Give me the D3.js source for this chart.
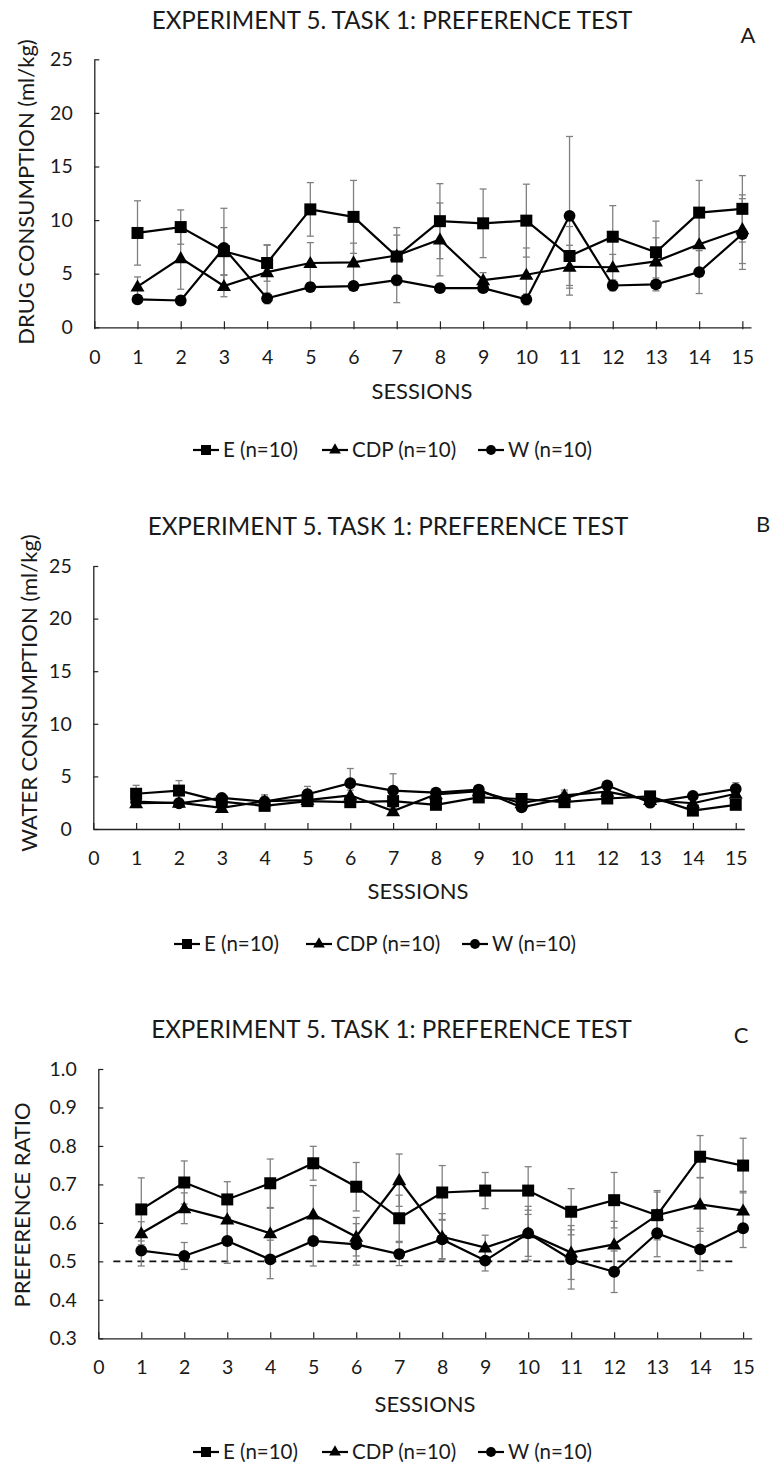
<!DOCTYPE html>
<html>
<head>
<meta charset="utf-8">
<script src="https://cdn.jsdelivr.net/npm/d3@7"></script>
<style>
  html, body { margin: 0; padding: 0; background: #fff; }
  svg { display: block; font-family: Lato, "Open Sans", sans-serif; }
</style>
</head>
<body>
<svg id="chart" width="772" height="1465"></svg>
<script>
// ---------- DATA ----------
const sessions = [1, 2, 3, 4, 5, 6, 7, 8, 9, 10, 11, 12, 13, 14, 15];
const xTickLabels = [0, 1, 2, 3, 4, 5, 6, 7, 8, 9, 10, 11, 12, 13, 14, 15];
const consumptionTicks = [0, 5, 10, 15, 20, 25];
const ratioTicks = [0.3, 0.4, 0.5, 0.6, 0.7, 0.8, 0.9, 1.0];
const seriesNames = ["E (n=10)", "CDP (n=10)", "W (n=10)"];
const titleText = "EXPERIMENT 5. TASK 1: PREFERENCE TEST";
const xTitle = "SESSIONS";

// Panel A: drug consumption (ml/kg)
const drugE      = [8.8, 9.35, 7.1, 6.0, 11.0, 10.3, 6.6, 9.9, 9.7, 9.95, 6.65, 8.45, 7.0, 10.7, 11.05];
const drugEErr   = [3.0, 1.6, 2.2, 1.7, 2.5, 3.4, 2.7, 3.5, 3.2, 3.4, 2.75, 2.9, 2.9, 3.0, 3.1];
const drugCDP    = [3.8, 6.45, 3.85, 5.15, 6.0, 6.05, 6.7, 8.2, 4.4, 4.9, 5.65, 5.6, 6.15, 7.75, 9.15];
const drugCDPErr = [0.9, 2.9, 1.0, 2.5, 1.9, 1.8, 1.9, 3.4, 0.7, 2.5, 2.0, 1.2, 2.2, 2.5, 3.2];
const drugW      = [2.6, 2.5, 7.4, 2.7, 3.75, 3.85, 4.4, 3.65, 3.65, 2.6, 10.4, 3.9, 4.0, 5.15, 8.7];
const drugWErr   = [0.4, 0.4, 3.7, 0.5, 0.4, 0.4, 2.1, 0.4, 0.4, 0.5, 7.4, 0.5, 0.6, 2.0, 3.3];

// Panel B: water consumption (ml/kg)
const waterE      = [3.35, 3.65, 2.6, 2.2, 2.65, 2.55, 2.65, 2.3, 3.0, 2.85, 2.55, 2.9, 3.1, 1.75, 2.3];
const waterEErr   = [0.8, 0.95, 0.3, 0.3, 0.35, 0.4, 0.4, 0.3, 0.35, 0.3, 0.3, 0.3, 0.35, 0.3, 0.3];
const waterCDP    = [2.45, 2.5, 2.0, 2.65, 2.75, 3.2, 1.7, 3.3, 3.6, 2.45, 3.2, 3.55, 2.75, 2.45, 3.35];
const waterCDPErr = [0.4, 0.4, 0.3, 0.6, 0.4, 0.5, 0.3, 0.5, 0.4, 0.4, 0.5, 0.4, 0.4, 0.4, 0.4];
const waterW      = [2.6, 2.45, 2.95, 2.6, 3.3, 4.35, 3.65, 3.45, 3.75, 2.05, 2.9, 4.15, 2.5, 3.15, 3.8];
const waterWErr   = [0.4, 0.3, 0.3, 0.5, 0.75, 1.4, 1.6, 0.4, 0.3, 0.3, 0.6, 0.3, 0.3, 0.3, 0.6];

// Panel C: preference ratio
const ratioE      = [0.635, 0.705, 0.661, 0.703, 0.755, 0.694, 0.612, 0.679, 0.684, 0.684, 0.629, 0.659, 0.62, 0.772, 0.749];
const ratioEErr   = [0.082, 0.056, 0.046, 0.063, 0.044, 0.063, 0.06, 0.07, 0.047, 0.062, 0.06, 0.072, 0.064, 0.055, 0.071];
const ratioCDP    = [0.573, 0.638, 0.609, 0.573, 0.622, 0.564, 0.711, 0.564, 0.536, 0.573, 0.523, 0.544, 0.62, 0.648, 0.632];
const ratioCDPErr = [0.03, 0.04, 0.05, 0.065, 0.075, 0.05, 0.068, 0.06, 0.032, 0.06, 0.07, 0.06, 0.06, 0.07, 0.05];
const ratioW      = [0.528, 0.514, 0.553, 0.505, 0.553, 0.544, 0.519, 0.557, 0.502, 0.573, 0.505, 0.473, 0.573, 0.531, 0.586];
const ratioWErr   = [0.04, 0.035, 0.058, 0.05, 0.065, 0.054, 0.03, 0.05, 0.027, 0.07, 0.077, 0.054, 0.061, 0.055, 0.05];
const chanceLevel = 0.5;
const chanceFrom = 0.35, chanceTo = 14.85;

// ---------- LAYOUT ----------
const xMax = 15.2;
const symbols = [d3.symbolSquare, d3.symbolTriangle, d3.symbolCircle];
const symbolSizes = [144, 85, 110];

const panels = [
  { letter: "A", yTitle: "DRUG CONSUMPTION (ml/kg)", yTicks: consumptionTicks, fmt: d3.format("d"),
    values: [drugE, drugCDP, drugW], errs: [drugEErr, drugCDPErr, drugWErr],
    left: 94.3, right: 751, y0: 327.3, yTop: 59.3,
    titleX: 392, titleY: 29, letterX: 748, letterY: 43,
    tickLabelY: 364, sessX: 422, sessY: 399, yTitleX: 26, yTitleY: 192,
    yLabelGap: 21.6, legendY: 450, legendX: [193, 322, 478], ref: false },
  { letter: "B", yTitle: "WATER CONSUMPTION (ml/kg)", yTicks: consumptionTicks, fmt: d3.format("d"),
    values: [waterE, waterCDP, waterW], errs: [waterEErr, waterCDPErr, waterWErr],
    left: 93.3, right: 744.3, y0: 829, yTop: 566,
    titleX: 388, titleY: 535, letterX: 763, letterY: 532,
    tickLabelY: 865, sessX: 418, sessY: 899, yTitleX: 29, yTitleY: 693,
    yLabelGap: 21.6, legendY: 944, legendX: [174, 306, 462], ref: false },
  { letter: "C", yTitle: "PREFERENCE RATIO", yTicks: ratioTicks, fmt: d3.format(".1f"),
    values: [ratioE, ratioCDP, ratioW], errs: [ratioEErr, ratioCDPErr, ratioWErr],
    left: 98.3, right: 751.7, y0: 1338.3, yTop: 1069,
    titleX: 391.5, titleY: 1038, letterX: 741, letterY: 1043,
    tickLabelY: 1374, sessX: 425, sessY: 1412, yTitleX: 22, yTitleY: 1205,
    yLabelGap: 21.6, legendY: 1452, legendX: [193, 322, 478], ref: true }
];

const svg = d3.select("#chart");
const textColor = "#1a1a1a";

panels.forEach(p => {
  const g = svg.append("g");
  const x = d3.scaleLinear().domain([0, xMax]).range([p.left, p.right]);
  const yDom = [p.yTicks[0], p.yTicks[p.yTicks.length - 1]];
  const y = d3.scaleLinear().domain(yDom).range([p.y0, p.yTop]);

  // Title and panel letter
  g.append("text").attr("x", p.titleX).attr("y", p.titleY).attr("text-anchor", "middle")
    .attr("font-size", 24.2).attr("fill", textColor).text(titleText);
  g.append("text").attr("x", p.letterX).attr("y", p.letterY).attr("text-anchor", "middle")
    .attr("font-size", 22).attr("fill", textColor).text(p.letter);

  // Y axis
  const yAxis = g.append("g").attr("transform", `translate(${p.left},0)`)
    .call(d3.axisLeft(y).tickValues(p.yTicks).tickFormat(p.fmt)
      .tickSizeInner(-5).tickSizeOuter(0).tickPadding(p.yLabelGap));
  yAxis.select(".domain").attr("stroke", "#222").attr("stroke-width", 1.3);
  yAxis.selectAll(".tick line").attr("stroke", "#222").attr("stroke-width", 1.2);
  yAxis.selectAll(".tick text").attr("font-size", 19.5).attr("font-family", "Lato").attr("fill", textColor);

  // X axis
  const xAxis = g.append("g").attr("transform", `translate(0,${p.y0})`)
    .call(d3.axisBottom(x).tickValues(xTickLabels).tickFormat(d3.format("d"))
      .tickSizeInner(-6).tickSizeOuter(0));
  xAxis.select(".domain").attr("stroke", "#222").attr("stroke-width", 1.3);
  xAxis.selectAll(".tick line").attr("stroke", "#222").attr("stroke-width", 1.2)
    .attr("y1", p.letter === "A" ? 2 : 0);
  xAxis.selectAll(".tick text").attr("font-size", 19.5).attr("font-family", "Lato").attr("fill", textColor)
    .attr("y", p.tickLabelY - p.y0).attr("dy", 0);

  // Axis titles
  g.append("text").attr("x", p.sessX).attr("y", p.sessY).attr("text-anchor", "middle")
    .attr("font-size", 22).attr("fill", textColor).text(xTitle);
  g.append("text").attr("transform", `translate(${p.yTitleX},${p.yTitleY}) rotate(-90)`)
    .attr("text-anchor", "middle").attr("dy", "0.35em")
    .attr("font-size", 22).attr("fill", textColor).text(p.yTitle);

  // Chance line
  if (p.ref) {
    g.append("line").attr("x1", x(chanceFrom)).attr("x2", x(chanceTo))
      .attr("y1", y(chanceLevel)).attr("y2", y(chanceLevel))
      .attr("stroke", "#111").attr("stroke-width", 1.6).attr("stroke-dasharray", "7,5");
  }

  // Error bars
  p.values.forEach((vals, si) => {
    const errs = p.errs[si];
    const eg = g.append("g").attr("stroke", "#808080").attr("stroke-width", 1.3);
    sessions.forEach((s, i) => {
      const cx = x(s), top = y(vals[i] + errs[i]), bot = y(vals[i] - errs[i]);
      eg.append("line").attr("x1", cx).attr("x2", cx).attr("y1", top).attr("y2", bot);
      eg.append("line").attr("x1", cx - 3.5).attr("x2", cx + 3.5).attr("y1", top).attr("y2", top);
      eg.append("line").attr("x1", cx - 3.5).attr("x2", cx + 3.5).attr("y1", bot).attr("y2", bot);
    });
  });

  // Lines and markers
  const line = d3.line().x((d, i) => x(sessions[i])).y(d => y(d));
  p.values.forEach((vals, si) => {
    g.append("path").datum(vals).attr("d", line).attr("fill", "none")
      .attr("stroke", "#000").attr("stroke-width", 2.2);
    const sym = d3.symbol().type(symbols[si]).size(symbolSizes[si]);
    g.selectAll(null).data(vals).enter().append("path")
      .attr("d", sym)
      .attr("transform", (d, i) => `translate(${x(sessions[i])},${y(d) + (si === 1 ? 1 : 0)})`)
      .attr("fill", "#000");
  });

  // Legend
  seriesNames.forEach((name, si) => {
    const lx = p.legendX[si], ly = p.legendY;
    g.append("line").attr("x1", lx).attr("x2", lx + 26).attr("y1", ly).attr("y2", ly)
      .attr("stroke", "#000").attr("stroke-width", 2.2);
    g.append("path").attr("d", d3.symbol().type(symbols[si]).size(symbolSizes[si] * 0.7)())
      .attr("transform", `translate(${lx + 13},${ly})`).attr("fill", "#000");
    g.append("text").attr("x", lx + 30).attr("y", ly).attr("dy", "0.36em")
      .attr("font-size", 20.5).attr("fill", textColor).text(name);
  });
});
</script>
</body>
</html>
